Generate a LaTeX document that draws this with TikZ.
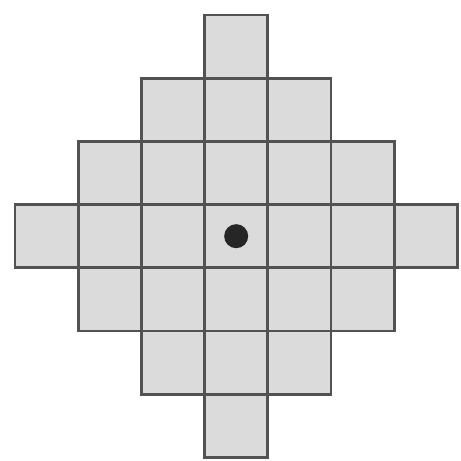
\documentclass[tikz,border=0pt]{standalone}
\begin{document}
\begin{tikzpicture}[cell/.style = {draw=black!68, fill=black!14, line width=1.3pt, minimum size=1cm, inner sep=0pt}, dot/.style = {circle, fill=black!85, minimum size=0.38cm, inner sep=0pt}]
    \useasboundingbox (-3.737,-3.557) rectangle (3.557,3.737);
    % diamond of cells, |c|+|r| <= 3
    \foreach \r in {-3,...,3}{
        \foreach \c in {-3,...,3}{
            \pgfmathtruncatemacro{\d}{abs(\r)+abs(\c)}
            \ifnum\d<4
                \node[cell] (cell\c\r) at (\c,\r) {};
            \fi
        }
    }
    \node[dot] (mid) at (cell00) {};
\end{tikzpicture}
\end{document}
